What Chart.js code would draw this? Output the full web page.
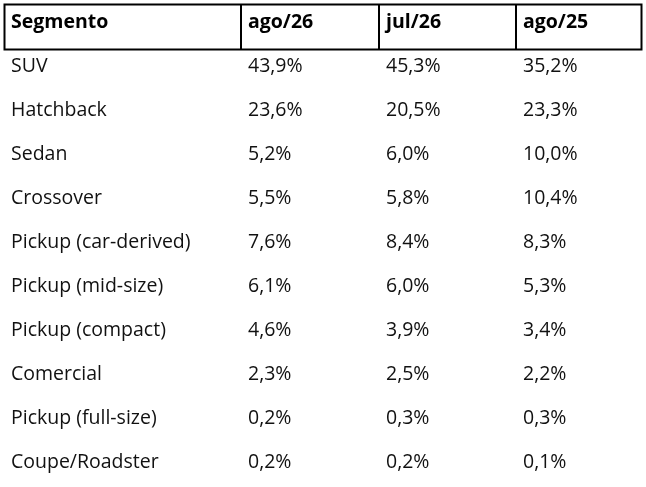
<!DOCTYPE html>
<html>
<head>
<meta charset="utf-8">
<script src="https://cdn.jsdelivr.net/npm/chart.js@4"></script>
<style>
  html, body { margin: 0; padding: 0; background: #fff; }
  #wrap { width: 646px; height: 487px; position: relative; }
</style>
</head>
<body>
<div id="wrap"><canvas id="segChart"></canvas></div>
<script>
const headers = ["Segmento", "ago/26", "jul/26", "ago/25"];
const segments = [
  "SUV", "Hatchback", "Sedan", "Crossover", "Pickup (car-derived)",
  "Pickup (mid-size)", "Pickup (compact)", "Comercial", "Pickup (full-size)", "Coupe/Roadster"
];
const ago26 = [43.9, 23.6, 5.2, 5.5, 7.6, 6.1, 4.6, 2.3, 0.2, 0.2];
const jul26 = [45.3, 20.5, 6.0, 5.8, 8.4, 6.0, 3.9, 2.5, 0.3, 0.2];
const ago25 = [35.2, 23.3, 10.0, 10.4, 8.3, 5.3, 3.4, 2.2, 0.3, 0.1];

// column edges of the header box (layout only)
const colEdges = [4, 241, 379, 516, 641];

function pct(v) {
  return v.toFixed(1).replace(".", ",") + "%";
}

const tablePlugin = {
  id: "tablePlugin",
  afterDraw(chart) {
    const ctx = chart.ctx;
    const y = chart.scales.y;
    const cols = [ago26, jul26, ago25];

    ctx.save();
    // header box
    const hy = y.getPixelForValue(0);
    const boxTop = hy - 17.5, boxBottom = hy + 27.5;
    ctx.strokeStyle = "#000";
    ctx.lineWidth = 2;
    ctx.strokeRect(colEdges[0] + 0.5, boxTop, colEdges[4] - colEdges[0], boxBottom - boxTop);
    ctx.beginPath();
    for (let i = 1; i < 4; i++) {
      ctx.moveTo(colEdges[i], boxTop);
      ctx.lineTo(colEdges[i], boxBottom);
    }
    ctx.stroke();

    ctx.textBaseline = "middle";
    ctx.textAlign = "left";
    ctx.fillStyle = "#000";
    ctx.font = "bold 19.5px 'Open Sans'";
    headers.forEach((h, i) => ctx.fillText(h, colEdges[i] + 7, hy));

    ctx.font = "19.5px 'Open Sans'";
    ctx.fillStyle = "#111";
    segments.forEach((s, r) => {
      const py = y.getPixelForValue(r + 1);
      ctx.fillText(s, colEdges[0] + 7, py);
      cols.forEach((c, ci) => ctx.fillText(pct(c[r]), colEdges[ci + 1] + 7, py));
    });
    ctx.restore();
  }
};

new Chart(document.getElementById("segChart"), {
  type: "line",
  data: {
    labels: [headers[0]].concat(segments),
    datasets: []
  },
  options: {
    responsive: true,
    maintainAspectRatio: false,
    animation: false,
    layout: { padding: { top: 22, bottom: 25, left: 0, right: 0 } },
    plugins: { legend: { display: false }, tooltip: { enabled: false } },
    scales: {
      x: { type: "linear", min: 0, max: 1, display: false },
      y: { type: "category", offset: false, display: false }
    }
  },
  plugins: [tablePlugin]
});
</script>
</body>
</html>
